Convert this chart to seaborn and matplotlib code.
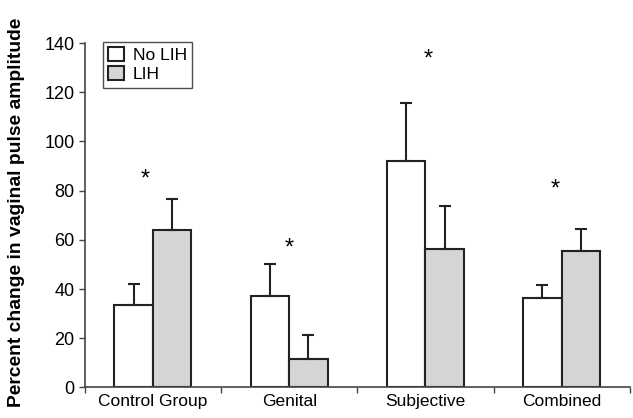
import numpy as np
import pandas as pd
import matplotlib
matplotlib.use("Agg")
import matplotlib.pyplot as plt
import seaborn as sns

groups = ["Control Group", "Genital", "Subjective", "Combined"]
conditions = ["No LIH", "LIH"]
no_lih = [33.4, 37.0, 92.0, 36.2]
lih = [64.1, 11.4, 56.2, 55.4]
no_lih_err = [8.7, 13.1, 23.5, 5.6]
lih_err = [12.7, 10.0, 17.5, 8.9]
star_y = [84.5, 56.5, 133.5, 80.5]
star_dx = [-0.06, 0.0, 0.02, -0.05]

sns.set_theme(style="ticks")
plt.rcParams['font.family'] = ['Liberation Sans', 'DejaVu Sans']
plt.rcParams.update({"text.color": "black", "axes.labelcolor": "black",
                     "xtick.color": "black", "ytick.color": "black"})

df = pd.DataFrame({
    "group": groups * 2,
    "cond": [conditions[0]] * 4 + [conditions[1]] * 4,
    "value": no_lih + lih,
})
errs = {"No LIH": no_lih_err, "LIH": lih_err}

fig, ax = plt.subplots(figsize=(6.33, 4.18), dpi=100)
fig.subplots_adjust(left=0.134, right=0.995, bottom=0.073, top=0.897)

sns.barplot(data=df, x="group", y="value", hue="cond", order=groups,
            hue_order=conditions, palette={"No LIH": "white", "LIH": "#d4d6d5"},
            edgecolor="#222222", linewidth=1.5, width=0.565, gap=0,
            errorbar=None, saturation=1, ax=ax)

for cont, cond in zip(ax.containers, conditions):
    for patch, e in zip(cont.patches, errs[cond]):
        xc = patch.get_x() + patch.get_width() / 2
        h = patch.get_height()
        ax.errorbar(xc, h, yerr=[[0], [e]], fmt="none", ecolor="#222222",
                    elinewidth=1.5, capsize=4, capthick=1.5, zorder=1)

for i, (y, dx) in enumerate(zip(star_y, star_dx)):
    ax.text(i + dx, y, "*", ha="center", va="center", fontsize=17)

ax.set_ylim(0, 140)
ax.set_xlim(-0.5, 3.5)
ax.set_yticks(np.arange(0, 141, 20))
ax.set_xticks(np.arange(-0.5, 3.6, 1), minor=False)
ax.set_xticklabels([])
ax.set_xticks(range(4), minor=True)
ax.set_xticklabels(groups, minor=True, fontsize=12.5)
ax.tick_params(axis="x", which="minor", length=0, pad=5)
ax.tick_params(axis="x", which="major", length=4, width=1, color="#444444")
ax.tick_params(axis="y", length=4, width=1, color="#444444", labelsize=13)
ax.set_xlabel("")
ax.set_ylabel("Percent change in vaginal pulse amplitude", fontsize=13.9,
              fontweight="bold")
ax.yaxis.set_label_coords(-0.11, 0.51)
for s in ["left", "bottom"]:
    ax.spines[s].set_color("#444444")
    ax.spines[s].set_linewidth(1.2)
sns.despine(ax=ax)

leg = ax.legend(loc="upper left", bbox_to_anchor=(0.033, 1.004), fontsize=12.5,
                frameon=True, fancybox=False, handlelength=0.92, handleheight=0.86,
                handletextpad=0.5, borderpad=0.3, labelspacing=0.2,
                borderaxespad=0)
leg.get_frame().set_edgecolor("#222222")
leg.get_frame().set_linewidth(1.0)

fig.savefig("out.png", dpi=100)
